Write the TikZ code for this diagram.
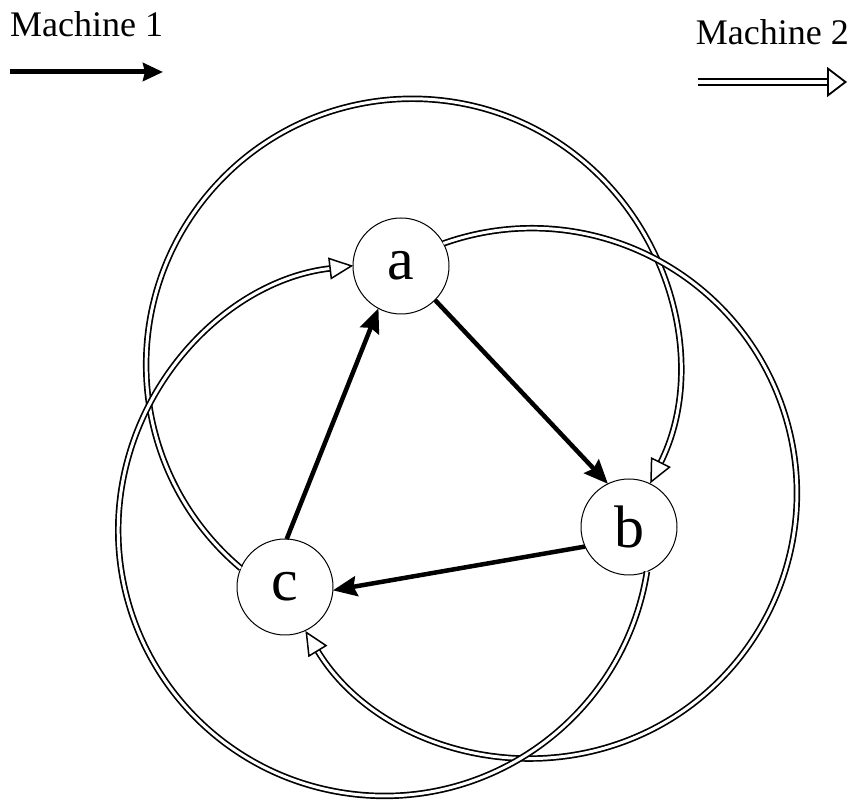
\documentclass[tikz,border=0pt]{standalone}
\usepackage{fontspec}
\setmainfont{Liberation Serif}
\usetikzlibrary{arrows.meta}
\begin{document}
\begin{tikzpicture}[x=1pt,y=1pt,
  state/.style={circle,draw,line width=1pt,minimum size=96pt,inner sep=0pt,outer sep=0pt,font=\fontsize{60}{64}\selectfont},
  mone/.style={line width=4.5pt,-{Stealth[length=24pt,width=20pt,inset=3pt]}},
  mtwo/.style={double,double distance=3pt,line width=1.7pt,-{Triangle[open,fill=white,length=24pt,width=22pt,line width=1.5pt]}},
  legone/.style={line width=5pt,-{Stealth[length=20pt,width=18pt,inset=2pt]}},
  legtwo/.style={double,double distance=4pt,line width=2pt,-{Triangle[open,fill=white,length=20pt,width=30pt,line width=1.8pt]}},
  lbl/.style={font=\fontsize{36}{40}\selectfont,inner sep=0pt}]
\useasboundingbox (0,0) rectangle (853,800);
\fill[white] (0,0) rectangle (853,800);
% states
\node[state] (a) at (401,534) {a};
\node[state] (b) at (629,273) {b};
\node[state] (c) at (285,213) {c};
% machine 1 transitions
\draw[mone] (a.-45) -- (b.116);
\draw[mone] (b.204) -- (c.-4);
\draw[mone] (c.88) -- (a.242);
% machine 2 transitions
\draw[mtwo] (c.157) arc[start angle=229.9,end angle=-26.5,radius=266];
\draw[mtwo] (a.28) arc[start angle=109.5,end angle=-148.7,radius=265];
\draw[mtwo] (b.-68) arc[start angle=-9,end angle=-263.3,radius=266];
% legend
\node[lbl,anchor=base west] (l1) at (10,763) {Machine 1};
\node[lbl,anchor=base east] (l2) at (849,755) {Machine 2};
\coordinate (l1s) at (10,728);
\coordinate (l1e) at (163,728);
\coordinate (l2s) at (698,718);
\coordinate (l2e) at (847,718);
\draw[legone] (l1s) -- (l1e);
\draw[legtwo] (l2s) -- (l2e);
\end{tikzpicture}
\end{document}
